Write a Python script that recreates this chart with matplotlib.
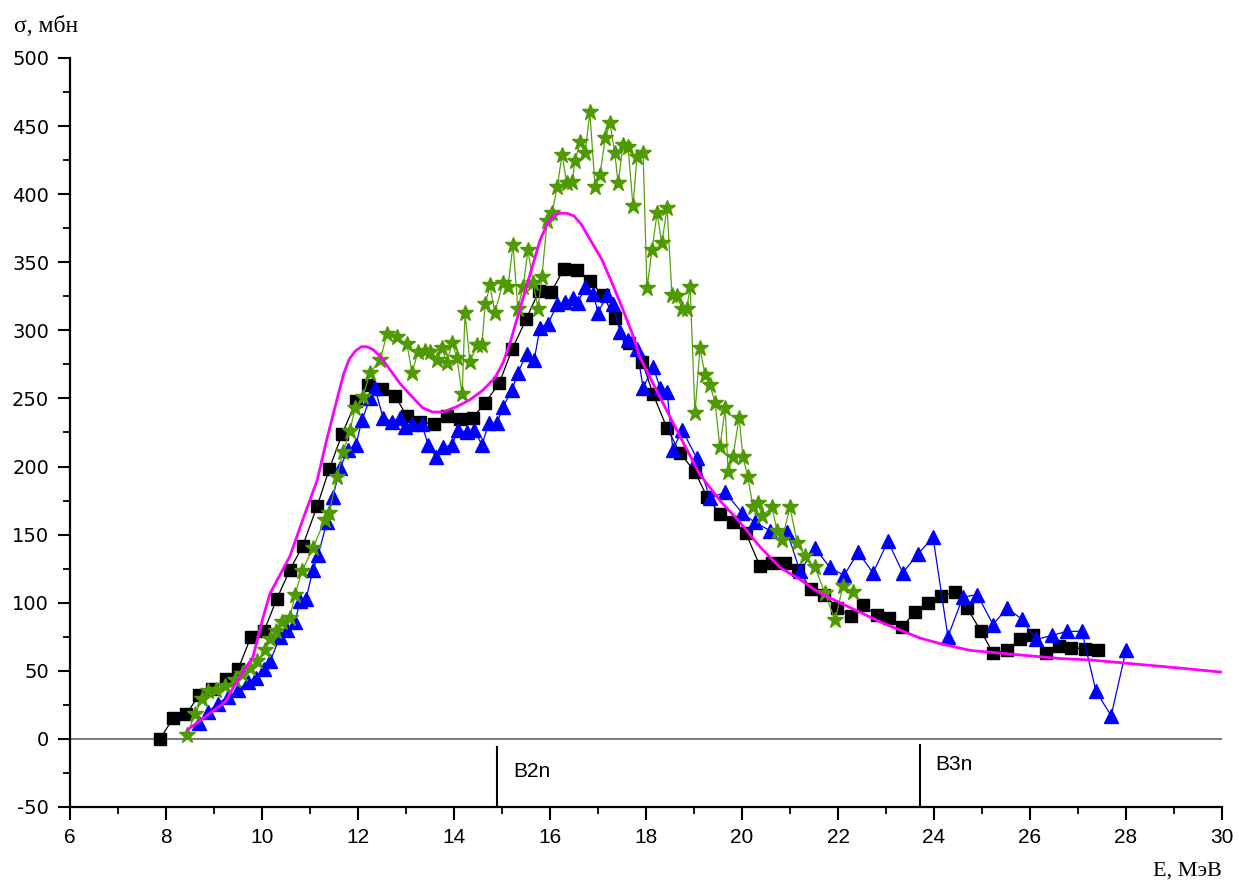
import matplotlib
matplotlib.use("Agg")
import matplotlib.pyplot as plt
from matplotlib.ticker import MultipleLocator

plt.rcParams['axes.unicode_minus'] = False

# ---- data ----
black_E = [7.875, 8.146, 8.417, 8.69, 8.96, 9.25, 9.5, 9.77, 10.04, 10.31, 10.58, 10.85,
           11.15, 11.40, 11.67, 11.96, 12.21, 12.5, 12.77, 13.02, 13.29, 13.58, 13.85,
           14.125, 14.40, 14.65, 14.94, 15.21, 15.5, 15.77, 16.02, 16.29, 16.56, 16.83,
           17.10, 17.35, 17.65, 17.92, 18.15, 18.44, 18.71, 19.02, 19.27, 19.54, 19.81,
           20.08, 20.375, 20.625, 20.9, 21.17, 21.44, 21.71, 21.98, 22.27, 22.52, 22.81,
           23.06, 23.33, 23.6, 23.875, 24.15, 24.44, 24.69, 24.98, 25.23, 25.52, 25.79,
           26.06, 26.33, 26.6, 26.85, 27.15, 27.42]
black_S = [0, 15, 18, 32, 37, 44, 51, 75, 79, 103, 124, 142,
           171, 198, 224, 248, 260, 257, 252, 237, 233, 231, 237,
           235, 236, 247, 261, 286, 308, 329, 328, 345, 344, 336,
           326, 309, 291, 277, 253, 228, 210, 196, 178, 165, 159,
           151, 127, 129, 129, 124, 110, 106, 96, 90, 98, 91,
           89, 82, 93, 100, 105, 108, 96, 79, 63, 65, 73,
           76, 63, 68, 67, 66, 65]

blue_E = [8.69, 8.875, 9.08, 9.29, 9.5, 9.71, 9.875, 10.04, 10.17, 10.375, 10.52, 10.69,
          10.79, 10.92, 11.06, 11.17, 11.35, 11.48, 11.625, 11.79, 11.96, 12.08, 12.25,
          12.35, 12.52, 12.71, 12.875, 12.98, 13.125, 13.33, 13.46, 13.625, 13.77, 13.96,
          14.08, 14.27, 14.42, 14.58, 14.73, 14.9, 15.02, 15.21, 15.33, 15.52, 15.67,
          15.79, 15.96, 16.15, 16.31, 16.48, 16.58, 16.73, 16.9, 17.0, 17.19, 17.31,
          17.46, 17.625, 17.81, 17.94, 18.15, 18.29, 18.44, 18.56, 18.75, 19.06, 19.33,
          19.65, 20.0, 20.27, 20.58, 20.94, 21.21, 21.52, 21.83, 22.125, 22.42, 22.73,
          23.04, 23.35, 23.67, 23.98, 24.29, 24.6, 24.9, 25.23, 25.52, 25.83, 26.125,
          26.46, 26.77, 27.08, 27.375, 27.69, 28.0]
blue_S = [12, 20, 26, 31, 36, 42, 45, 51, 57, 75, 80, 86,
          101, 103, 124, 135, 159, 178, 199, 212, 216, 234, 250,
          258, 236, 233, 236, 229, 231, 231, 216, 207, 214, 216,
          227, 225, 227, 216, 232, 232, 244, 256, 269, 283, 278,
          302, 305, 319, 321, 324, 320, 332, 327, 313, 326, 319,
          299, 293, 286, 258, 273, 258, 255, 212, 227, 206, 177,
          181, 166, 159, 153, 152, 123, 140, 126, 120, 137, 122,
          145, 122, 136, 148, 75, 104, 106, 84, 96, 88, 73,
          76, 79, 79, 35, 17, 65]

green_E = [8.44, 8.6, 8.75, 8.875, 9.04, 9.23, 9.44, 9.58, 9.75, 9.9, 10.06, 10.17, 10.29,
           10.42, 10.58, 10.69, 10.83, 11.06, 11.31, 11.40, 11.56, 11.69, 11.83, 11.94,
           12.1, 12.25, 12.46, 12.6, 12.81, 13.02, 13.125, 13.25, 13.4, 13.5, 13.65,
           13.75, 13.85, 13.96, 14.06, 14.17, 14.23, 14.33, 14.48, 14.58, 14.65, 14.75,
           14.85, 15.02, 15.125, 15.23, 15.33, 15.44, 15.54, 15.65, 15.75, 15.83, 15.94,
           16.04, 16.15, 16.25, 16.35, 16.46, 16.52, 16.625, 16.73, 16.83, 16.94, 17.04,
           17.15, 17.25, 17.35, 17.42, 17.52, 17.625, 17.73, 17.81, 17.94, 18.02, 18.125,
           18.23, 18.33, 18.44, 18.54, 18.65, 18.75, 18.85, 18.92, 19.02, 19.125, 19.23,
           19.33, 19.44, 19.54, 19.65, 19.71, 19.81, 19.94, 20.02, 20.125, 20.23, 20.33,
           20.42, 20.625, 20.73, 20.83, 21.0, 21.15, 21.31, 21.52, 21.73, 21.94, 22.1, 22.31]
green_S = [3, 18, 29, 35, 36, 39, 43, 48, 52, 57, 65, 73, 79,
           86, 89, 106, 123, 140, 161, 166, 192, 211, 226, 243,
           251, 269, 278, 297, 295, 290, 269, 284, 285, 284, 278,
           287, 276, 291, 280, 253, 313, 277, 289, 289, 319, 333,
           313, 335, 332, 363, 316, 332, 359, 335, 316, 339, 380,
           386, 405, 429, 408, 409, 424, 438, 430, 460, 405, 414,
           441, 452, 430, 408, 436, 435, 391, 427, 430, 331, 359,
           386, 364, 390, 326, 325, 316, 316, 332, 239, 287, 267,
           260, 247, 214, 243, 196, 207, 236, 207, 192, 170, 173,
           164, 170, 153, 146, 170, 144, 134, 126, 107, 87, 112, 108]

curve_E = [8.46, 9.23, 9.54, 9.81, 10.02, 10.17, 10.58, 10.85, 11.15, 11.35, 11.56, 11.7,
           11.82, 11.95, 12.07, 12.18, 12.31, 12.46, 12.67, 12.875, 13.08, 13.35, 13.56,
           13.77, 14.06, 14.33, 14.6, 14.85, 15.02, 15.17, 15.3, 15.45, 15.6, 15.79, 15.94,
           16.06, 16.2, 16.35, 16.5, 16.65, 16.83, 17.08, 17.29, 17.5, 17.71, 17.875, 18.29,
           18.71, 19.125, 19.54, 19.96, 20.375, 20.79, 21.21, 21.625, 22.04, 22.46, 22.875,
           23.29, 23.71, 24.125, 24.75, 25.375, 26.0, 26.625, 27.25, 27.875, 28.5, 29.125,
           30.0]
curve_S = [7, 27, 46, 60, 89, 107, 134, 161, 190, 220, 249, 268,
           279, 285, 288, 288, 286, 281, 271, 261, 253, 243, 240,
           240, 244, 249, 256, 265, 276, 291, 307, 325, 343, 366, 378,
           384, 386, 386, 384, 378, 367, 352, 335, 317, 298, 280, 251,
           222, 194, 175, 159, 141, 126, 117, 107, 100, 93, 86,
           80, 74, 70, 65, 63, 61, 59, 58, 56, 54, 52,
           49]

thresh_E = [14.9, 23.7]
thresh_top = [-6, -4.5]
thresh_labels = ["B2n", "B3n"]
thresh_label_E = [15.23, 24.03]
thresh_label_S = [-24, -19]

x_ticks = list(range(6, 31, 2))
y_ticks = list(range(-50, 501, 50))

# ---- figure ----
W, H = 1239, 885
fig = plt.figure(figsize=(W / 100, H / 100), dpi=100)
ax = fig.add_axes([70 / W, 1 - 807 / H, (1222 - 70) / W, (807 - 58) / H])

narrow = ['Liberation Sans Narrow', 'Liberation Sans', 'DejaVu Sans']
serif = ['Liberation Serif', 'DejaVu Serif']

ax.axhline(0, color='#707070', lw=1.3, zorder=1)

ax.plot(black_E, black_S, color='black', lw=0.9, marker='s', ms=8,
        mec='black', mfc='black', zorder=3)
ax.plot(blue_E, blue_S, color='#0000ff', lw=0.9, marker='^', ms=10,
        mec='#0000ff', mfc='#0000ff', zorder=4)
ax.plot(green_E, green_S, color='#5aa010', lw=0.9, marker='*', ms=12,
        mec='#4e9a00', mfc='#4e9a00', zorder=5)
ax.plot(curve_E, curve_S, color='#ff00ff', lw=2.0, zorder=6)

for e, top in zip(thresh_E, thresh_top):
    ax.plot([e, e], [-50, top], color='black', lw=1.5, zorder=2)
for lab, e, s in zip(thresh_labels, thresh_label_E, thresh_label_S):
    ax.text(e, s, lab, fontsize=15, family=narrow, ha='left', va='center')

ax.set_xlim(6, 30)
ax.set_ylim(-50, 500)
ax.set_xticks(x_ticks)
ax.set_yticks(y_ticks)
ax.xaxis.set_minor_locator(MultipleLocator(1))
ax.yaxis.set_minor_locator(MultipleLocator(25))
for s in ['top', 'right']:
    ax.spines[s].set_visible(False)
for s in ['left', 'bottom']:
    ax.spines[s].set_linewidth(1.6)
ax.tick_params(which='major', direction='out', length=9, width=1.5, pad=6,
               labelsize=15)
ax.tick_params(which='minor', direction='out', length=5, width=1.3)
for lab in ax.get_xticklabels():
    lab.set_family(narrow)
for lab in ax.get_yticklabels():
    lab.set_family(['DejaVu Sans'])
    lab.set_fontsize(14)

fig.text(14 / W, 1 - 26 / H, "σ, мбн", fontsize=17, family=serif,
         ha='left', va='center')
fig.text(1222 / W, 1 - 871 / H, "E, МэВ", fontsize=16, family=serif,
         ha='right', va='center')

fig.savefig("out.png", dpi=100)
